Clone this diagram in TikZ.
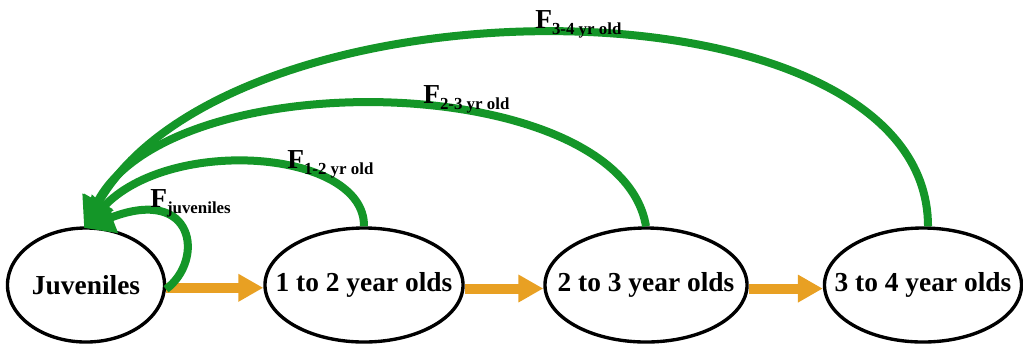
\documentclass[tikz,border=0pt]{standalone}
\usepackage{fontspec}
\setmainfont{Liberation Serif}
\usetikzlibrary{arrows.meta,shapes.geometric}
\definecolor{fgreen}{RGB}{20,150,40}
\definecolor{aorange}{RGB}{232,160,35}
\newcommand{\Flab}[1]{F\raisebox{-0.16cm}{\fontsize{12}{14}\selectfont #1}}

\begin{document}
\begin{tikzpicture}[x=0.025cm,y=-0.025cm,font=\fontsize{19.5}{22}\selectfont\bfseries,
  stage/.style={ellipse,draw,line width=2.4pt,inner sep=0pt,minimum height=2.85cm},
  ageup/.style={aorange,line width=0.25cm,-{Triangle[length=0.62cm,width=0.65cm]}},
  fec/.style={fgreen,line width=0.2cm,-{Triangle[length=0.75cm,width=0.8cm]}},
  flab/.style={anchor=base west,inner sep=0pt}]
\useasboundingbox (0,0) rectangle (1023,345);
% ---------- stages ----------
\node[stage,minimum width=3.925cm] (juv) at (86,285) {\makebox[0pt]{Juveniles}};
\node[stage,minimum width=4.95cm] (n1) at (364,285) {\makebox[0pt]{1 to 2 year olds}};
\node[stage,minimum width=5.05cm] (n2) at (646,285) {\makebox[0pt]{2 to 3 year olds}};
\node[stage,minimum width=4.925cm] (n3) at (923,285) {\makebox[0pt]{3 to 4 year olds}};
% ---------- growth (orange) ----------
\draw[ageup] (juv.-2) -- (n1.west |- juv.-2);
\draw[ageup] (n1.-2) -- (n2.west |- n1.-2);
\draw[ageup] (n2.-2) -- (n3.west |- n2.-2);
% ---------- fecundity (green) ----------
\coordinate (tip) at (84,228);
\draw[fec] ([xshift=0.125cm]n3.north) .. controls (928,-30) and (230,-30) .. (tip);
\draw[fec] (n2.north) .. controls (620,70) and (170,60) .. (tip);
\draw[fec] (n1.north) .. controls (365,150) and (170,135) .. (tip);
\draw[fec] (juv.-3) .. controls (205,260) and (195,185) .. (tip);
% labels
\node[flab] (fj) at (150,207) {\Flab{juveniles}};
\node[flab] (f12) at (287,168) {\Flab{1-2 yr old}};
\node[flab] (f23) at (423,103) {\Flab{2-3 yr old}};
\node[flab] (f34) at (535,28) {\Flab{3-4 yr old}};
\end{tikzpicture}
\end{document}
